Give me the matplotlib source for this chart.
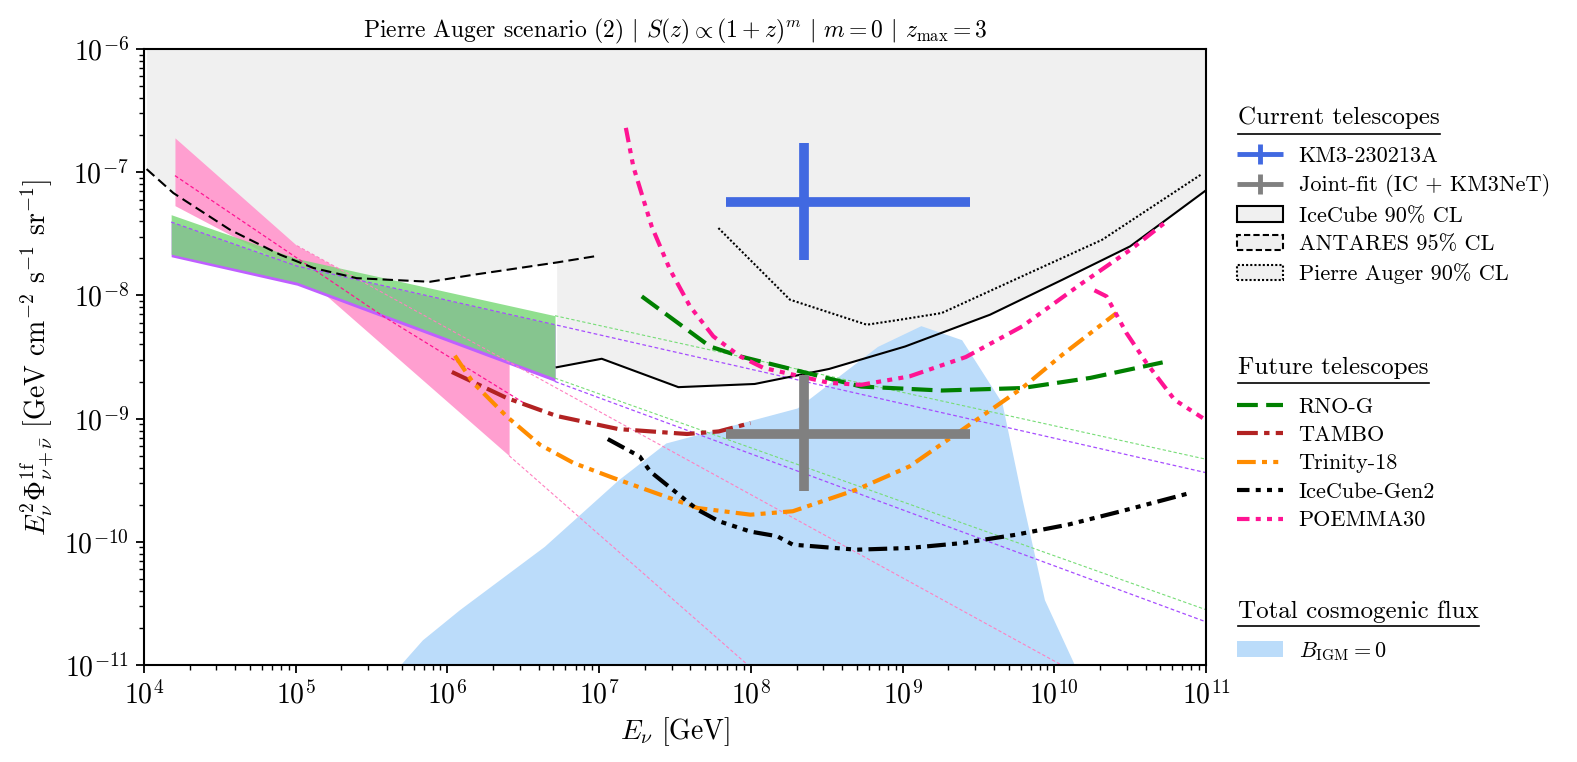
import numpy as np
import matplotlib
matplotlib.use("Agg")
import matplotlib.pyplot as plt
from matplotlib.lines import Line2D
from matplotlib.patches import Patch
from matplotlib.legend_handler import HandlerErrorbar

plt.rcParams["font.family"] = "serif"
plt.rcParams["font.serif"] = ["cmr10"]
plt.rcParams["mathtext.fontset"] = "cm"
plt.rcParams["axes.formatter.use_mathtext"] = True
plt.rcParams["axes.unicode_minus"] = False

# ---- limits of current telescopes
icecube_E = [5.25e6, 1.04e7, 3.33e7, 1.06e8, 3.28e8, 1.04e9, 3.77e9, 1.13e10, 3.16e10, 1e11]
icecube_F = [2.61e-9, 3.06e-9, 1.80e-9, 1.91e-9, 2.53e-9, 3.85e-9, 6.97e-9, 1.34e-8, 2.50e-8, 7.13e-8]
antares_E = [1.04e4, 1.56e4, 3.69e4, 7.89e4, 1.31e5, 2.52e5, 7.67e5, 1.48e6, 5.25e6, 9.89e6]
antares_F = [1.06e-7, 6.78e-8, 3.41e-8, 2.14e-8, 1.67e-8, 1.38e-8, 1.29e-8, 1.47e-8, 1.85e-8, 2.10e-8]
auger_E = [6.11e7, 1.81e8, 5.81e8, 9.64e8, 1.81e9, 6.14e9, 2.07e10, 9.25e10]
auger_F = [3.52e-8, 9.23e-9, 5.78e-9, 6.35e-9, 7.19e-9, 1.43e-8, 2.83e-8, 9.55e-8]

# ---- KM3 event and joint fit
km3_E, km3_Elo, km3_Ehi = 2.24e8, 6.9e7, 2.8e9
km3_F, km3_Flo, km3_Fhi = 5.77e-8, 1.95e-8, 1.73e-7
joint_E, joint_Elo, joint_Ehi = 2.24e8, 6.9e7, 2.8e9
joint_F, joint_Flo, joint_Fhi = 7.5e-10, 2.57e-10, 2.28e-9

# ---- future telescopes
rnog_E = [1.91e7, 5.38e7, 8.49e7, 1.72e8, 5.33e8, 1.81e9, 6.14e9, 1.73e10, 5.18e10]
rnog_F = [9.82e-9, 3.85e-9, 3.20e-9, 2.58e-9, 1.82e-9, 1.69e-9, 1.77e-9, 2.14e-9, 2.86e-9]
tambo_E = [1.07e6, 2.46e6, 5.25e6, 1.34e7, 3.79e7, 6.15e7, 9.95e7]
tambo_F = [2.39e-9, 1.47e-9, 1.05e-9, 8.22e-10, 7.50e-10, 7.87e-10, 9.20e-10]
trinity_E = [1.12e6, 1.48e6, 2.46e6, 4.07e6, 6.76e6, 1.24e7, 4.46e7, 9.95e7, 1.89e8,
             4.97e8, 1.11e9, 2.48e9, 6.14e9, 1.13e10, 2.57e10]
trinity_F = [3.24e-9, 1.95e-9, 1.04e-9, 6.14e-10, 4.37e-10, 3.30e-10, 1.88e-10, 1.66e-10, 1.77e-10,
             2.65e-10, 4.09e-10, 8.13e-10, 1.77e-9, 3.30e-9, 7.19e-9]
gen2_E = [1.14e7, 1.85e7, 2.17e7, 4.46e7, 6.15e7, 9.95e7, 1.49e8, 1.89e8, 4.97e8,
          1.11e9, 2.48e9, 5.55e9, 1.24e10, 2.76e10, 7.85e10]
gen2_F = [6.82e-10, 4.93e-10, 3.72e-10, 1.82e-10, 1.47e-10, 1.21e-10, 1.11e-10, 9.48e-11, 8.63e-11,
          8.91e-11, 9.77e-11, 1.14e-10, 1.38e-10, 1.77e-10, 2.49e-10]
poemma_E = [1.50e7, 1.68e7, 2.22e7, 2.93e7, 3.97e7, 5.66e7, 8.49e7, 1.21e8, 3.28e8, 5.33e8,
            1.11e9, 2.61e9, 6.14e9, 1.53e10, 3.18e10, 5.50e10]
poemma_F = [2.29e-7, 1.11e-7, 3.63e-8, 1.62e-8, 8.15e-9, 4.65e-9, 3.20e-9, 2.58e-9, 1.95e-9, 1.88e-9,
            2.20e-9, 3.16e-9, 5.60e-9, 1.26e-8, 2.35e-8, 3.99e-8]
poemma2_E = [1.84e10, 2.21e10, 2.99e10, 4.06e10, 6.21e10, 9.53e10]
poemma2_F = [1.10e-8, 9.82e-9, 4.95e-9, 2.82e-9, 1.42e-9, 1.01e-9]

# ---- total cosmogenic flux, B_IGM = 0
cosmo_E = [4.88e5, 6.84e5, 1.20e6, 4.35e6, 1.34e7, 2.75e7, 2.02e8, 6.82e8, 1.32e9,
           2.45e9, 4.52e9, 6.14e9, 8.61e9, 1.34e10]
cosmo_F = [1.0e-11, 1.60e-11, 2.81e-11, 9.18e-11, 3.19e-10, 6.34e-10, 1.22e-9, 3.85e-9, 5.68e-9,
           4.37e-9, 1.34e-9, 2.20e-10, 3.39e-11, 1.04e-11]

# ---- measured spectra bands
band_E = [1.51e4, 1.02e5, 5.12e6]
green_up = [4.52e-8, 1.99e-8, 6.84e-9]
green_lo = [2.16e-8, 1.28e-8, 2.13e-9]
purple_up = [3.94e-8, 1.73e-8, 5.78e-9]
purple_lo = [2.06e-8, 1.21e-8, 2.00e-9]
ext_E = 1e11
green_up_ext, green_lo_ext = 4.68e-10, 2.81e-11
purple_up_ext, purple_lo_ext = 3.64e-10, 2.24e-11

pink_E = [1.6e4, 1.02e5, 2.55e6]
pink_up = [1.90e-7, 2.53e-8, 2.85e-9]
pink_lo = [5.35e-8, 1.61e-8, 5.00e-10]
pink_mid_E = [1.6e4, 3.78e5, 3.16e6]
pink_mid_F = [9.38e-8, 6.76e-9, 1.35e-9]
pink_up_ext_E, pink_up_ext_F = 3.16e10, 4.95e-12
pink_lo_ext_E, pink_lo_ext_F = 3.16e8, 2.75e-12

GRAY = "#f0f0f0"
BLUE_FILL = "#bbdcfa"
LS_RNOG = (0, (5, 2))
LS_TAMBO = (0, (5, 1.5, 1.3, 1.5))
LS_TRIN = (0, (4.5, 1.5, 1.2, 1.5, 1.2, 1.5))
LS_GEN2 = (0, (4.5, 1.5, 1.2, 1.5, 1.2, 1.5, 1.2, 1.5))
LS_POEM = (0, (3.5, 1.5, 1.2, 1.5, 1.2, 1.5, 1.2, 1.5))

W, H = 1577, 762
fig = plt.figure(figsize=(W / 100, H / 100), dpi=100)
ax = fig.add_axes([144 / W, 1 - 665 / H, 1062 / W, 616 / H])
ax.set_xscale("log")
ax.set_yscale("log")

# excluded regions
ax.fill_between(antares_E, antares_F, 1e-6, color=GRAY, lw=0, zorder=0.5)
ax.fill_between(icecube_E, icecube_F, 1e-6, color=GRAY, lw=0, zorder=0.5)
ax.fill_between(auger_E, auger_F, 1e-6, color=GRAY, lw=0, zorder=0.5)

ax.fill_between(cosmo_E, cosmo_F, 1e-13, color=BLUE_FILL, lw=0, zorder=1)

# bands
ax.fill_between(pink_E, pink_lo, pink_up, color="#ff9fd0", lw=0, zorder=1.5)
ax.fill_between(band_E, purple_lo, purple_up, color="#bf5fff", lw=0, zorder=1.6)
ax.fill_between(band_E, green_lo, green_up, color="#7cd97a", alpha=0.84, lw=0, zorder=1.7)

ax.plot(pink_mid_E, pink_mid_F, color="deeppink", lw=0.9, ls=(0, (3, 2)), zorder=2)
ax.plot([pink_E[1], pink_up_ext_E], [pink_up[1], pink_up_ext_F], color="#ff80c0", lw=0.8, ls=(0, (3, 2)), zorder=2)
ax.plot([pink_E[-1], pink_lo_ext_E], [pink_lo[-1], pink_lo_ext_F], color="#ff80c0", lw=0.8, ls=(0, (3, 2)), zorder=2)
ax.plot([band_E[-1], ext_E], [green_up[-1], green_up_ext], color="#77dd77", lw=0.8, ls=(0, (3, 2)), zorder=2)
ax.plot([band_E[-1], ext_E], [green_lo[-1], green_lo_ext], color="#77dd77", lw=0.8, ls=(0, (3, 2)), zorder=2)
ax.plot(band_E + [ext_E], purple_up + [purple_up_ext], color="#a64dff", lw=0.9, ls=(0, (3, 2)), zorder=2.1)
ax.plot([band_E[-1], ext_E], [purple_lo[-1], purple_lo_ext], color="#a64dff", lw=0.9, ls=(0, (3, 2)), zorder=2.1)

# current limits
ax.plot(icecube_E, icecube_F, color="black", lw=1.5, zorder=3)
ax.plot(antares_E, antares_F, color="black", lw=1.5, ls=(0, (5, 2.5)), zorder=3)
ax.plot(auger_E, auger_F, color="black", lw=1.5, ls=(0, (1, 1)), zorder=3)

# future telescopes
ax.plot(rnog_E, rnog_F, color="green", lw=3, ls=LS_RNOG, zorder=4)
ax.plot(tambo_E, tambo_F, color="firebrick", lw=3, ls=LS_TAMBO, zorder=4)
ax.plot(trinity_E, trinity_F, color="darkorange", lw=3, ls=LS_TRIN, zorder=4)
ax.plot(gen2_E, gen2_F, color="black", lw=3, ls=LS_GEN2, zorder=4)
ax.plot(poemma_E, poemma_F, color="deeppink", lw=3, ls=LS_POEM, zorder=4)
ax.plot(poemma2_E, poemma2_F, color="deeppink", lw=3, ls=LS_POEM, zorder=4)

# data points
ax.errorbar(km3_E, km3_F, xerr=[[km3_E - km3_Elo], [km3_Ehi - km3_E]],
            yerr=[[km3_F - km3_Flo], [km3_Fhi - km3_F]], fmt="none",
            ecolor="royalblue", elinewidth=7, capsize=0, zorder=5)
ax.errorbar(joint_E, joint_F, xerr=[[joint_E - joint_Elo], [joint_Ehi - joint_E]],
            yerr=[[joint_F - joint_Flo], [joint_Fhi - joint_F]], fmt="none",
            ecolor="gray", elinewidth=7, capsize=0, zorder=5)
# thinner proxies for the legend
px_km3 = ax.errorbar([np.nan], [np.nan], xerr=[1], yerr=[1], fmt="none", ecolor="royalblue", elinewidth=3.5)
px_joint = ax.errorbar([np.nan], [np.nan], xerr=[1], yerr=[1], fmt="none", ecolor="gray", elinewidth=3.5)

ax.set_xlim(1e4, 1e11)
ax.set_ylim(1e-11, 1e-6)
for s in ax.spines.values():
    s.set_linewidth(1.5)
ax.tick_params(which="major", direction="out", length=6, width=1.3, labelsize=20, pad=5)
ax.tick_params(which="minor", direction="out", length=3.5, width=1.0)

ax.set_xlabel(r"$E_\nu$ [GeV]", fontsize=20, labelpad=4)
ax.set_ylabel(r"$E_\nu^2\Phi_{\nu+\bar{\nu}}^{\rm 1f}$ [GeV cm$^{-2}$ s$^{-1}$ sr$^{-1}$]", fontsize=20, labelpad=6)
ax.set_title(r"Pierre Auger scenario (2) $|$ $S(z)\propto(1+z)^m$ $|$ $m=0$ $|$ $z_{\rm max}=3$",
             fontsize=17, pad=8)

# legends: titles as separate underlined texts, entries as frameless legends
leg_kw = dict(loc="upper left", bbox_transform=fig.transFigure, frameon=False,
              fontsize=16, handlelength=2.05, handletextpad=0.72,
              labelspacing=0.4, borderaxespad=0, borderpad=0)
LEG_X = 1237 / W
TITLE_X = 1238 / W

h_cur = [px_km3, px_joint,
         Patch(facecolor=GRAY, edgecolor="black", lw=1.5, ls="-"),
         Patch(facecolor=GRAY, edgecolor="black", lw=1.5, ls=(0, (3, 1.5))),
         Patch(facecolor=GRAY, edgecolor="black", lw=1.5, ls=(0, (1, 1)))]
l_cur = ["KM3-230213A", "Joint-fit (IC + KM3NeT)", "IceCube 90% CL", "ANTARES 95% CL",
         "Pierre Auger 90% CL"]
eb_handler = HandlerErrorbar(xerr_size=1.03, yerr_size=0.45)
leg1 = ax.legend(h_cur, l_cur, bbox_to_anchor=(LEG_X, 1 - 146 / H),
                 handler_map={px_km3: eb_handler, px_joint: eb_handler}, **leg_kw)
ax.add_artist(leg1)

h_fut = [Line2D([], [], color="green", lw=3, ls=LS_RNOG),
         Line2D([], [], color="firebrick", lw=3, ls=LS_TAMBO),
         Line2D([], [], color="darkorange", lw=3, ls=LS_TRIN),
         Line2D([], [], color="black", lw=3, ls=(0, (3, 1.5, 1.2, 1.5, 1.2, 1.5, 1.2, 1.5))),
         Line2D([], [], color="deeppink", lw=3, ls=(0, (3, 1.5, 1.2, 1.5, 1.2, 1.5, 1.2, 1.5)))]
l_fut = ["RNO-G", "TAMBO", "Trinity-18", "IceCube-Gen2", "POEMMA30"]
leg2 = ax.legend(h_fut, l_fut, bbox_to_anchor=(LEG_X, 1 - 397 / H), **leg_kw)
ax.add_artist(leg2)

leg3 = ax.legend([Patch(facecolor=BLUE_FILL, edgecolor="none")], [r"$B_{\rm IGM}=0$"],
                 bbox_to_anchor=(LEG_X, 1 - 640 / H), **leg_kw)

titles = []
for txt, yc in [("Current telescopes", 118), ("Future telescopes", 368), ("Total cosmogenic flux", 612)]:
    titles.append(fig.text(TITLE_X, 1 - yc / H, txt, fontsize=18, ha="left", va="center"))

# underline legend titles
fig.canvas.draw()
r = fig.canvas.get_renderer()
for t, yu in zip(titles, (134, 383, 626)):
    bb = t.get_window_extent(r)
    fig.add_artist(Line2D([bb.x0 / W, bb.x1 / W], [1 - yu / H, 1 - yu / H], color="black", lw=1.2,
                          transform=fig.transFigure))

fig.savefig("out.png", dpi=100)
